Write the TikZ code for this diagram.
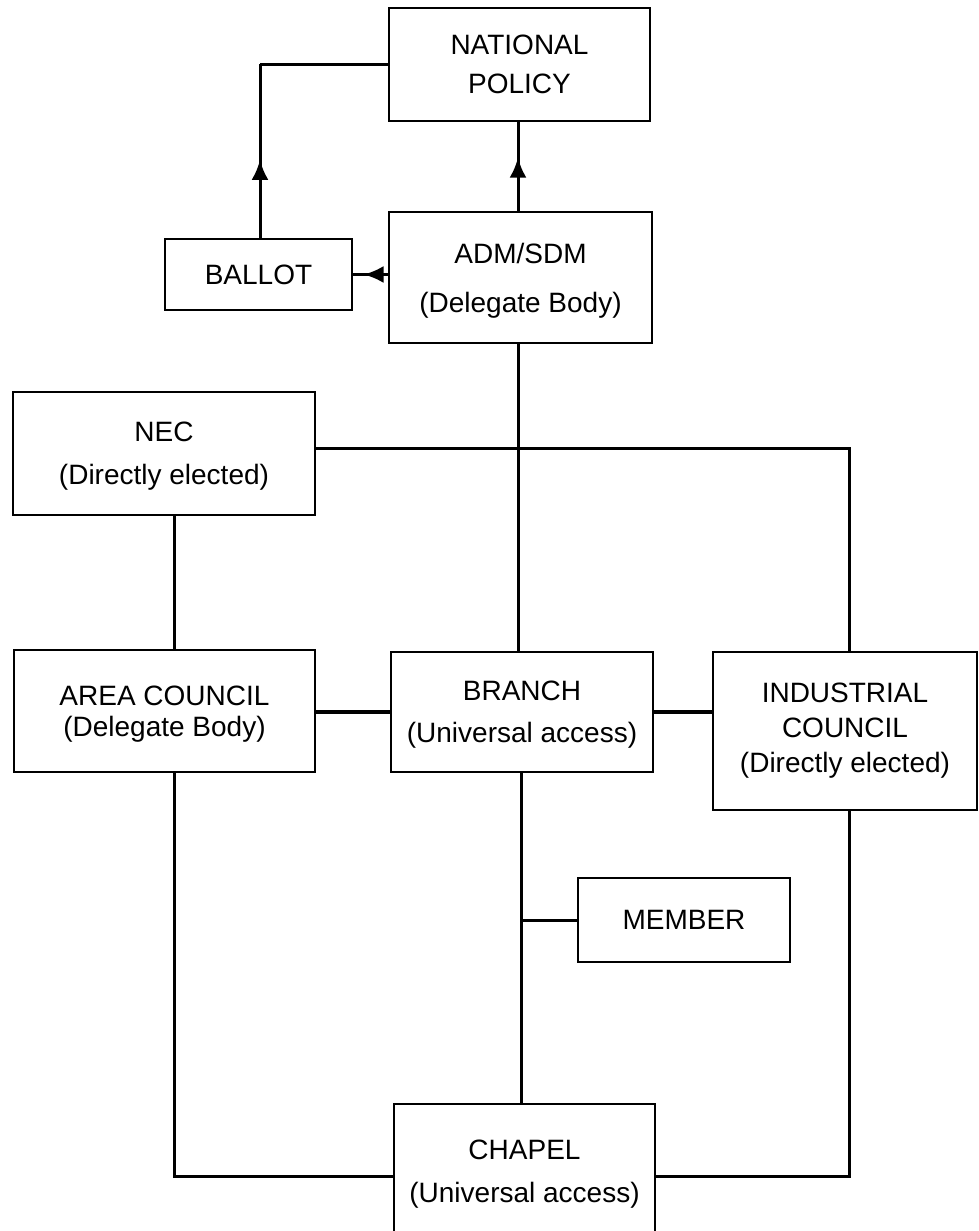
\documentclass[tikz,border=0pt]{standalone}
\usepackage{fontspec}
\setmainfont{Liberation Sans}
\usetikzlibrary{arrows.meta,decorations.markings}
\begin{document}
\begin{tikzpicture}[x=1pt,y=-1pt,
  box/.style={draw,line width=2.2pt,rectangle,inner sep=0pt,align=center,
    font=\fontsize{28}{30}\selectfont,text depth=0pt},
  conn/.style={line width=3pt},
  thickconn/.style={line width=4pt},
  midarrow/.style={postaction={decorate},decoration={markings,
    mark=at position #1 with {\arrow{Latex[length=20pt,width=17pt]}}}}
]
\clip (0,0) rectangle (979,1231);
\fill[white] (0,0) rectangle (979,1231);

\node[box,minimum width=261pt,minimum height=113pt] (NP) at (519.5,64.5)
  {NATIONAL\\[9pt]POLICY};
\node[box,minimum width=187pt,minimum height=71pt] (BALLOT) at (258.5,274.5)
  {BALLOT};
\node[box,minimum width=263pt,minimum height=131pt] (ADM) at (520.5,277.5)
  {ADM/SDM\\[19pt](Delegate Body)};
\node[box,minimum width=302pt,minimum height=123pt] (NEC) at (164,453.5)
  {NEC\\[13pt](Directly elected)};
\node[box,minimum width=301pt,minimum height=122pt] (AREA) at (164.5,711)
  {AREA COUNCIL\\[1pt](Delegate Body)};
\node[box,minimum width=262pt,minimum height=120pt] (BRANCH) at (522,712)
  {BRANCH\\[12pt](Universal access)};
\node[box,minimum width=264pt,minimum height=158pt,text depth=] (IND) at (845,731)
  {INDUSTRIAL\\[5pt]COUNCIL\\[5pt](Directly elected)};
\node[box,minimum width=212pt,minimum height=84pt] (MEMBER) at (684,920)
  {MEMBER};
\node[box,minimum width=261pt,minimum height=134pt] (CHAPEL) at (524.5,1171)
  {CHAPEL\\[13pt](Universal access)};

% x positions of the vertical connectors
\coordinate (bx) at (260,0);
\coordinate (ax) at (174,0);
\coordinate (sx) at (518,0);
\coordinate (cx) at (521,0);
\coordinate (ix) at (849,0);

% ballot -> national policy
\draw[conn,midarrow=0.45] (BALLOT.north -| bx) -- (NP.west -| bx);
\draw[conn] (NP.west -| bx) -- (NP.west);
% adm -> national policy
\draw[conn,midarrow=0.6] (ADM.north -| sx) -- (NP.south -| sx);
% adm -> ballot
\draw[conn,midarrow=0.7] (ADM.west |- BALLOT.east) -- (BALLOT.east);

% central spine
\coordinate (hj) at (518,448);
\draw[conn] (ADM.south -| sx) -- (BRANCH.north -| sx);
\draw[conn] (NEC.east |- hj) -- (hj) -- (hj -| ix) -- (IND.north -| ix);
\draw[conn] (NEC.south -| ax) -- (AREA.north -| ax);

% branch side links
\draw[thickconn] (BRANCH.west) -- (AREA.east |- BRANCH.west);
\draw[thickconn] (BRANCH.east) -- (IND.west |- BRANCH.east);

% branch -> member / chapel
\draw[conn] (BRANCH.south -| cx) -- (CHAPEL.north -| cx);
\draw[conn] (MEMBER.west -| cx) -- (MEMBER.west);

% area / industrial -> chapel
\coordinate (cy) at (0,1176);
\draw[conn] (AREA.south -| ax) -- (cy -| ax) -- (cy -| CHAPEL.west);
\draw[conn] (IND.south -| ix) -- (cy -| ix) -- (cy -| CHAPEL.east);
\end{tikzpicture}
\end{document}
